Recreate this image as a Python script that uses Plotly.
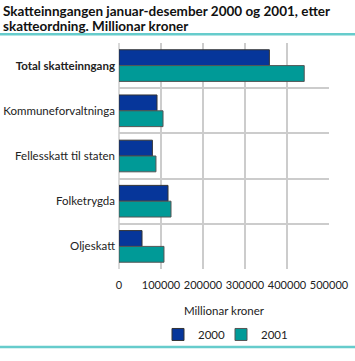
import plotly.graph_objects as go

categories = ["<b>Total skatteinngang</b>", "Kommuneforvaltninga", "Fellesskatt til staten", "Folketrygda", "Oljeskatt"]
values_2000 = [358000, 90500, 79500, 116700, 54800]
values_2001 = [441000, 104800, 88000, 123800, 107100]
x_ticks = [0, 100000, 200000, 300000, 400000, 500000]

pos = list(range(len(categories)))

W, H = 355, 361
L, R, T, B = 119, 26, 43, 83
PW, PH = W - L - R, H - T - B

fig = go.Figure()
fig.add_trace(go.Bar(y=pos, x=values_2000, orientation="h", name="2000", legend="legend",
                     showlegend=True,
                     marker=dict(color="#06369A", line=dict(color="#333333", width=1))))
fig.add_trace(go.Bar(y=pos, x=values_2001, orientation="h", name="2001", legend="legend2",
                     showlegend=True,
                     marker=dict(color="#009A97", line=dict(color="#555555", width=1))))

def px_x(p):
    return (p - L) / PW

def px_y(p):
    return (H - B - p) / PH

leg_common = dict(orientation="h", yanchor="top", font=dict(size=11.5),
                  bgcolor="rgba(0,0,0,0)")

fig.update_layout(
    width=W, height=H,
    showlegend=True,
    margin=dict(l=L, r=R, t=T, b=B),
    paper_bgcolor="white", plot_bgcolor="white",
    barmode="group", bargap=0.3, bargroupgap=0,
    font=dict(family="Lato, DejaVu Sans, sans-serif", size=11, color="#222222"),
    legend=dict(x=px_x(158), xanchor="left", y=px_y(331), **leg_common),
    legend2=dict(x=px_x(221), xanchor="left", y=px_y(331), **leg_common),
    xaxis=dict(range=[0, 500000], tickvals=x_ticks, ticktext=[str(v) for v in x_ticks],
               showgrid=True, gridcolor="#cccccc", gridwidth=1.5, zeroline=False,
               showline=False, ticks="outside", ticklen=6, tickcolor="rgba(0,0,0,0)",
               tickangle=0, automargin=False,
               tickfont=dict(size=11),
               title=dict(text="Millionar kroner", font=dict(size=11.5), standoff=16)),
    yaxis=dict(tickvals=pos, ticktext=categories, range=[4.5, -0.5],
               showgrid=False, zeroline=False, ticks="", ticklabelstandoff=3, automargin=False,
               minor=dict(tickvals=[-0.5, 0.5, 1.5, 2.5, 3.5, 4.5], showgrid=True,
                          gridcolor="#cccccc", gridwidth=1.5, ticks=""),
               tickfont=dict(size=11.5)),
    annotations=[
        dict(text="<b>Skatteinngangen januar-desember 2000 og 2001, etter</b>",
             xref="paper", yref="paper", x=px_x(1), y=px_y(10), xanchor="left", yanchor="middle",
             align="left", showarrow=False, font=dict(size=13.5, color="#111111")),
        dict(text="<b>skatteordning. Millionar kroner</b>",
             xref="paper", yref="paper", x=px_x(1), y=px_y(25), xanchor="left", yanchor="middle",
             align="left", showarrow=False, font=dict(size=13.5, color="#111111")),
    ],
    shapes=[dict(type="line", xref="paper", yref="paper", x0=px_x(0), x1=px_x(W),
                 y0=px_y(34), y1=px_y(34), line=dict(color="#66CCCC", width=2.5)),
            dict(type="line", xref="paper", yref="paper", x0=px_x(0), x1=px_x(W),
                 y0=px_y(359), y1=px_y(359), line=dict(color="#66CCCC", width=2.5)),
            dict(type="line", xref="paper", yref="paper", x0=0, x1=0, y0=0, y1=1,
                 line=dict(color="#cccccc", width=1.5), layer="below")],
)

fig.write_html("out.html")
